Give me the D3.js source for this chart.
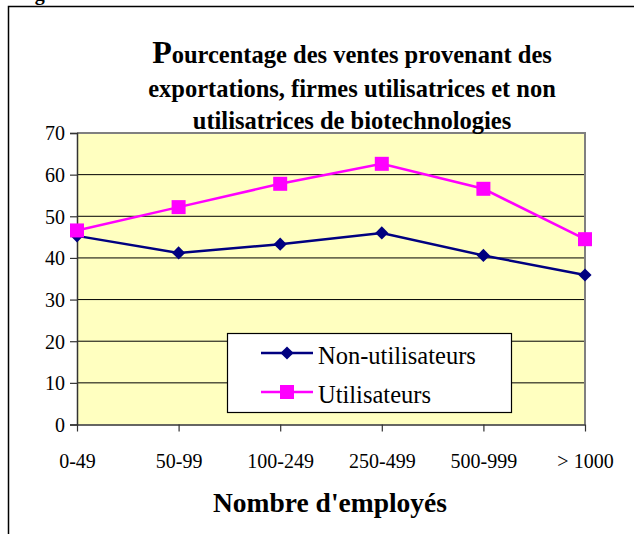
<!DOCTYPE html>
<html>
<head>
<meta charset="utf-8">
<script src="https://cdn.jsdelivr.net/npm/d3@7"></script>
<style>
  body { margin: 0; background: #fff; }
</style>
</head>
<body>
<div id="chart"></div>
<script>
/*********************************************
** Ventes provenant des exportations
** d3 v7
**********************************************/

// categories (taille des firmes)
var categories = ["0-49", "50-99", "100-249", "250-499", "500-999", "> 1000"];

// series values
var nonUtilisateurs = [45.3, 41.2, 43.3, 46.0, 40.6, 35.9];
var utilisateurs    = [46.6, 52.2, 57.8, 62.6, 56.6, 44.5];

var seriesNames = ["Non-utilisateurs", "Utilisateurs"];
var yTicks = [0, 10, 20, 30, 40, 50, 60, 70];

var titleLines = ["ourcentage des ventes provenant des",
                  "exportations, firmes utilisatrices et non",
                  "utilisatrices de biotechnologies"];

var width = 634, height = 534;
var plotLeft = 77, plotRight = 585, plotTop = 133, plotBottom = 424.5;
var serif = "'Liberation Serif', 'Times New Roman', serif";

var svg = d3.select("#chart")
  .append("svg")
  .attr("width", width)
  .attr("height", height)
  .style("font-family", serif);

// cut off caption + outer frame
svg.append("text")
  .attr("x", 17)
  .attr("y", 0)
  .style("font-family", serif)
  .style("font-size", "20px")
  .style("font-weight", "bold")
  .text("Figure");

svg.append("rect")
  .attr("x", 8.5)
  .attr("y", 6.5)
  .attr("width", 700)
  .attr("height", 700)
  .attr("fill", "none")
  .attr("stroke", "#000")
  .attr("stroke-width", 1.5);

var x = d3.scalePoint()
  .domain(categories)
  .range([plotLeft, plotRight]);

var y = d3.scaleLinear()
  .domain([0, 70])
  .range([plotBottom, plotTop]);

// plot area
svg.append("rect")
  .attr("x", plotLeft)
  .attr("y", plotTop)
  .attr("width", plotRight - plotLeft)
  .attr("height", plotBottom - plotTop)
  .attr("fill", "#FFFFC0");

// gridlines
svg.append("g")
  .selectAll("line")
  .data(yTicks.slice(1, -1))
  .enter()
  .append("line")
  .attr("x1", plotLeft)
  .attr("x2", plotRight)
  .attr("y1", function(d) { return y(d); })
  .attr("y2", function(d) { return y(d); })
  .attr("stroke", "#000")
  .attr("stroke-width", 1);

// gray border (top, right)
svg.append("path")
  .attr("d", "M" + plotLeft + "," + plotTop + "H" + plotRight + "V" + plotBottom)
  .attr("fill", "none")
  .attr("stroke", "#808080")
  .attr("stroke-width", 2);

// y axis
var yAxis = d3.axisLeft(y)
  .tickValues(yTicks)
  .tickSize(7)
  .tickPadding(5)
  .tickFormat(d3.format("d"));

var gy = svg.append("g")
  .attr("transform", "translate(" + plotLeft + ",0)")
  .call(yAxis);
gy.select(".domain").attr("stroke", "#333").attr("stroke-width", 1.5);
gy.selectAll(".tick line").attr("stroke", "#333").attr("stroke-width", 1.2);
gy.selectAll(".tick text")
  .style("font-size", "20px")
  .style("font-family", serif)
  .attr("dy", "0.34em");

// x axis
var xAxis = d3.axisBottom(x)
  .tickSize(7)
  .tickPadding(22)
  .tickSizeOuter(0);

var gx = svg.append("g")
  .attr("transform", "translate(0," + plotBottom + ")")
  .call(xAxis);
gx.select(".domain").attr("stroke", "#333").attr("stroke-width", 1.5);
gx.selectAll(".tick line").attr("stroke", "#333").attr("stroke-width", 1.2);
gx.selectAll(".tick text")
  .style("font-size", "20px")
  .style("font-family", serif);

// series lines + markers
var line = d3.line()
  .x(function(d, i) { return x(categories[i]); })
  .y(function(d) { return y(d); });

var diamond = d3.symbol().type(d3.symbolDiamond2).size(110);

function drawSeries(values, color, kind) {
  svg.append("path")
    .datum(values)
    .attr("d", line)
    .attr("fill", "none")
    .attr("stroke", color)
    .attr("stroke-width", 2.5);

  var g = svg.append("g");
  values.forEach(function(v, i) {
    if (kind === "diamond") {
      g.append("path")
        .attr("d", diamond)
        .attr("transform", "translate(" + x(categories[i]) + "," + y(v) + ")")
        .attr("fill", color);
    } else {
      g.append("rect")
        .attr("x", x(categories[i]) - 7)
        .attr("y", y(v) - 7)
        .attr("width", 14)
        .attr("height", 14)
        .attr("fill", color);
    }
  });
}

drawSeries(nonUtilisateurs, "#000080", "diamond");
drawSeries(utilisateurs, "#FF00FF", "square");

// title
var title = svg.append("g")
  .style("font-weight", "bold")
  .style("font-family", serif);
var t1 = title.append("text")
  .attr("x", 352)
  .attr("y", 63)
  .attr("text-anchor", "middle")
  .style("font-family", serif)
  .style("font-size", "24.5px");
t1.append("tspan").style("font-size", "32px").text("P");
t1.append("tspan").text(titleLines[0]);

title.selectAll(".sub")
  .data(titleLines.slice(1))
  .enter()
  .append("text")
  .attr("class", "sub")
  .attr("x", 352)
  .attr("y", function(d, i) { return 97 + i * 32; })
  .attr("text-anchor", "middle")
  .style("font-family", serif)
  .style("font-size", "24.5px")
  .text(function(d) { return d; });

// x axis title
svg.append("text")
  .attr("x", 330)
  .attr("y", 512)
  .attr("text-anchor", "middle")
  .style("font-family", serif)
  .style("font-size", "27.5px")
  .style("font-weight", "bold")
  .text("Nombre d'employés");

// legend
var legend = svg.append("g");
legend.append("rect")
  .attr("x", 227.5)
  .attr("y", 333.5)
  .attr("width", 284)
  .attr("height", 79)
  .attr("fill", "#fff")
  .attr("stroke", "#000")
  .attr("stroke-width", 1.2);

var legendRows = [
  {name: seriesNames[0], color: "#000080", kind: "diamond", y: 353},
  {name: seriesNames[1], color: "#FF00FF", kind: "square", y: 392}
];

legendRows.forEach(function(r) {
  legend.append("line")
    .attr("x1", 261).attr("x2", 313)
    .attr("y1", r.y).attr("y2", r.y)
    .attr("stroke", r.color)
    .attr("stroke-width", 2.5);
  if (r.kind === "diamond") {
    legend.append("path")
      .attr("d", diamond)
      .attr("transform", "translate(287," + r.y + ")")
      .attr("fill", r.color);
  } else {
    legend.append("rect")
      .attr("x", 280).attr("y", r.y - 7)
      .attr("width", 14).attr("height", 14)
      .attr("fill", r.color);
  }
  legend.append("text")
    .attr("x", 318)
    .attr("y", r.y + 11)
    .style("font-family", serif)
    .style("font-size", "24.5px")
    .text(r.name);
});
</script>
</body>
</html>
